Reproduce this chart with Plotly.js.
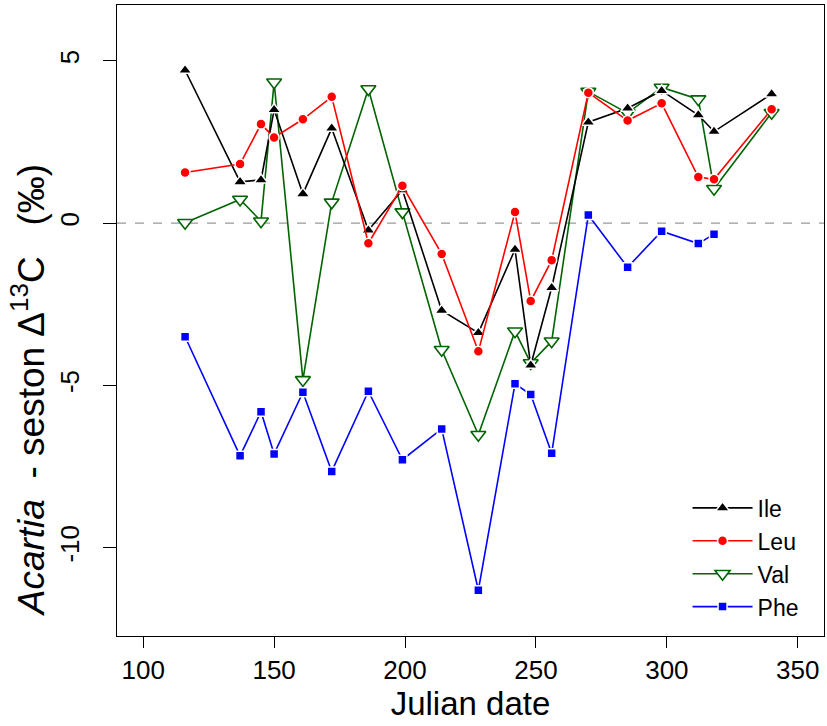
<!DOCTYPE html>
<html>
<head>
<meta charset="utf-8">
<script src="https://cdn.plot.ly/plotly-3.0.1.min.js"></script>
<style>html,body{margin:0;padding:0;background:#fff;}#chart{width:827px;height:726px;}</style>
</head>
<body>
<div id="chart"></div>
<script>
// Julian dates
var dates = [116, 137, 145, 150, 161, 172, 186, 199, 214, 228, 242, 248, 256, 270, 285, 298, 312, 318, 340];
// Acartia - seston delta13C (permil)
var ile = [4.71, 1.27, 1.33, 3.49, 0.90, 2.92, -0.22, 1.02, -2.69, -3.38, -0.81, -4.38, -1.99, 3.11, 3.54, 4.08, 3.33, 2.82, 3.98];
var leu = [1.56, 1.82, 3.05, 2.64, 3.20, 3.89, -0.62, 1.15, -0.95, -3.95, 0.34, -2.40, -1.14, 4.02, 3.16, 3.69, 1.42, 1.35, 3.51];
var val = [0.01, 0.73, 0.06, 4.34, -4.83, 0.64, 4.13, 0.34, -3.90, -6.52, -3.33, -4.31, -3.64, 4.05, 3.39, 4.18, 3.82, 1.06, 3.40];
var phe = [-3.50, -7.17, -5.81, -7.11, -5.21, -7.65, -5.18, -7.29, -6.34, -11.31, -4.95, -5.28, -7.09, 0.25, -1.36, -0.25, -0.63, -0.34, null];
var seriesNames = ["Ile", "Leu", "Val", "Phe"];
var xTicks = [100, 150, 200, 250, 300, 350];
var yTicks = [-10, -5, 0, 5];

var FONT = "Liberation Sans, Arial, sans-serif";

var traces = [
  {x: dates, y: val, name: seriesNames[2], type: "scatter", mode: "lines+markers", legendrank: 3,
   line: {color: "#006400", width: 1.6},
   marker: {symbol: "triangle-down", size: 13, color: "#ffffff", line: {color: "#006400", width: 1.6}}},
  {x: dates, y: ile, name: seriesNames[0], type: "scatter", mode: "lines+markers", legendrank: 1,
   line: {color: "#000000", width: 1.6},
   marker: {symbol: "triangle-up", size: 12, color: "#000000", line: {color: "#ffffff", width: 1.5}}},
  {x: dates, y: leu, name: seriesNames[1], type: "scatter", mode: "lines+markers", legendrank: 2,
   line: {color: "#ff0000", width: 1.6},
   marker: {symbol: "circle", size: 10, color: "#ff0000", line: {color: "#ffffff", width: 1.5}}},
  {x: dates, y: phe, name: seriesNames[3], type: "scatter", mode: "lines+markers", legendrank: 4,
   line: {color: "#0000ff", width: 1.6},
   marker: {symbol: "square", size: 9, color: "#0000ff", line: {color: "#ffffff", width: 1.5}}}
];

var layout = {
  width: 827, height: 726,
  margin: {l: 117, r: 3, t: 5, b: 90},
  paper_bgcolor: "#ffffff", plot_bgcolor: "#ffffff",
  font: {family: FONT, color: "#000000", size: 23},
  showlegend: true,
  legend: {x: 0.807, y: 0.012, xanchor: "left", yanchor: "bottom", bgcolor: "rgba(0,0,0,0)",
           font: {family: FONT, size: 23}, tracegroupgap: 0, itemwidth: 60},
  xaxis: {range: [90, 360], tickvals: xTicks, ticktext: xTicks.map(String), ticks: "outside", ticklen: 11,
          tickwidth: 1, tickcolor: "#000", showgrid: false, zeroline: false, showline: true, mirror: true,
          linecolor: "#000", linewidth: 1, tickfont: {family: FONT, size: 26},
          title: {text: "Julian date", font: {family: FONT, size: 33}, standoff: 4}},
  yaxis: {range: [-12.72, 6.72], tickvals: yTicks, ticktext: yTicks.map(String), ticks: "outside", ticklen: 13,
          tickwidth: 1, tickcolor: "#000", tickangle: -90, showgrid: false, zeroline: false, showline: true,
          mirror: true, linecolor: "#000", linewidth: 1, tickfont: {family: FONT, size: 26}, ticklabelstandoff: 14,
          title: {text: ""}},
  annotations: [{xref: "paper", yref: "paper", x: -0.124, y: 0.39, xanchor: "center", yanchor: "middle",
                 textangle: -90, showarrow: false,
                 text: "<i>Acartia</i>&nbsp;&nbsp;- seston Δ<sup>13</sup>C&nbsp;&nbsp;&nbsp;(‰)",
                 font: {family: FONT, size: 37, color: "#000"}}],
  shapes: [{type: "line", xref: "paper", x0: 0, x1: 1, yref: "y", y0: 0, y1: 0,
            line: {color: "#999999", width: 1.2, dash: "dash"}, layer: "below"}]
};

Plotly.newPlot("chart", traces, layout, {displayModeBar: false, staticPlot: true});
</script>
</body>
</html>
